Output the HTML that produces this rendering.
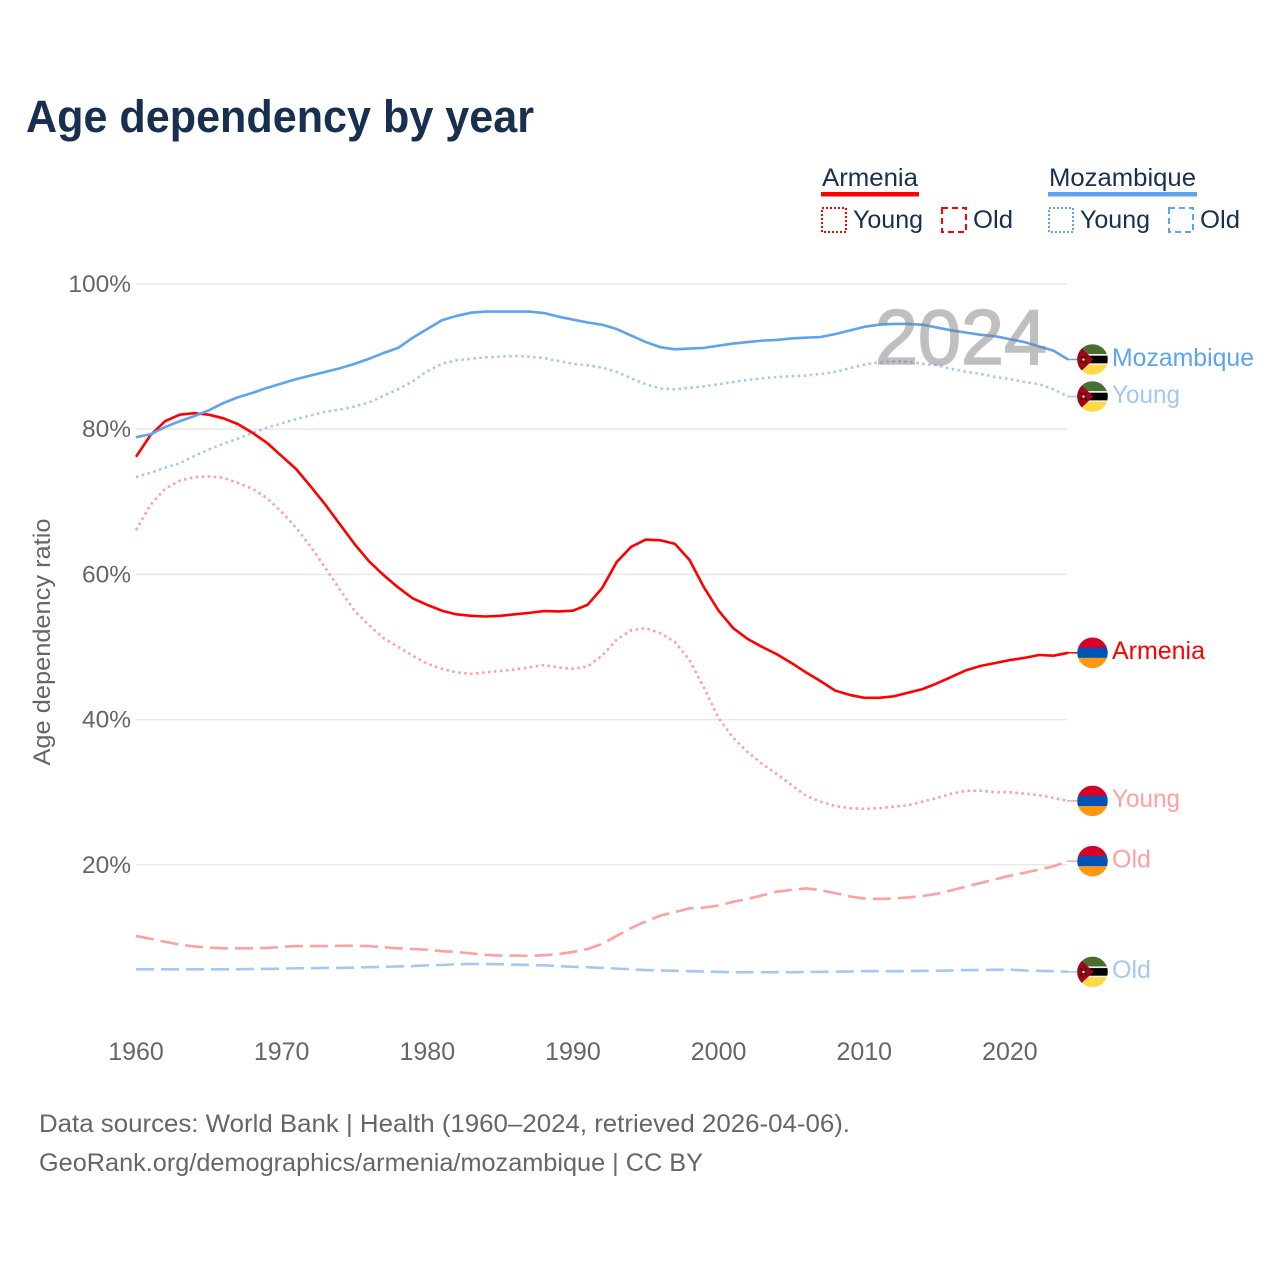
<!DOCTYPE html>
<html lang="en">
<head>
<meta charset="utf-8">
<title>Age dependency by year</title>
<style>
html,body{margin:0;padding:0;background:#fff;}
svg{display:block;font-family:"Liberation Sans",sans-serif;}
</style>
</head>
<body>
<svg id="chart" width="1280" height="1280" viewBox="0 0 1280 1280" xmlns="http://www.w3.org/2000/svg">
  <rect width="1280" height="1280" fill="#fff"/>
  <text x="26" y="132" font-size="45" font-weight="700" fill="#17304f" textLength="508" lengthAdjust="spacingAndGlyphs">Age dependency by year</text>

  <g>
    <text x="822" y="186" font-size="25" fill="#17304f" textLength="96" lengthAdjust="spacingAndGlyphs">Armenia</text>
    <rect x="821" y="192" width="98" height="4.5" fill="#ff0000"/>
    <rect x="822" y="208" width="24" height="24" fill="none" stroke="#ff0000" stroke-width="2" stroke-dasharray="2 2"/>
    <text x="853" y="228" font-size="25" fill="#17304f" textLength="70" lengthAdjust="spacingAndGlyphs">Young</text>
    <rect x="942" y="208" width="24" height="24" fill="none" stroke="#ff0000" stroke-width="2" stroke-dasharray="6 4"/>
    <text x="973" y="228" font-size="25" fill="#17304f" textLength="40" lengthAdjust="spacingAndGlyphs">Old</text>

    <text x="1049" y="186" font-size="25" fill="#17304f" textLength="147" lengthAdjust="spacingAndGlyphs">Mozambique</text>
    <rect x="1048" y="192" width="149" height="4.5" fill="#5ea3ec"/>
    <rect x="1049" y="208" width="24" height="24" fill="none" stroke="#5ea3ec" stroke-width="2" stroke-dasharray="2 2"/>
    <text x="1080" y="228" font-size="25" fill="#17304f" textLength="70" lengthAdjust="spacingAndGlyphs">Young</text>
    <rect x="1169" y="208" width="24" height="24" fill="none" stroke="#5ea3ec" stroke-width="2" stroke-dasharray="6 4"/>
    <text x="1200" y="228" font-size="25" fill="#17304f" textLength="40" lengthAdjust="spacingAndGlyphs">Old</text>
  </g>

  <g id="grid"></g>
  <g id="yticks"></g>
  <g id="xticks"></g>
  <text transform="translate(50,642) rotate(-90)" text-anchor="middle" font-size="24" fill="#666" textLength="247" lengthAdjust="spacingAndGlyphs">Age dependency ratio</text>

  <g id="series"></g>
  <text x="875" y="364" font-size="78" fill="#808080" stroke="#808080" stroke-width="1.6" opacity="0.5" textLength="172" lengthAdjust="spacingAndGlyphs">2024</text>
  <g id="ends"></g>

  <text x="39" y="1132" font-size="25" fill="#666" textLength="811" lengthAdjust="spacingAndGlyphs">Data sources: World Bank | Health (1960–2024, retrieved 2026-04-06).</text>
  <text x="39" y="1171" font-size="25" fill="#666" textLength="664" lengthAdjust="spacingAndGlyphs">GeoRank.org/demographics/armenia/mozambique | CC BY</text>
</svg>
<script>
var startYear = 1960;
var xTickYears = [1960, 1970, 1980, 1990, 2000, 2010, 2020];
var yTickValues = [20, 40, 60, 80, 100];

var mozambiqueTotal = [78.9,79.3,80.3,81.1,81.8,82.6,83.6,84.4,85.0,85.7,86.3,86.9,87.4,87.9,88.4,89.0,89.7,90.5,91.2,92.6,93.8,95.0,95.6,96.05,96.2,96.2,96.2,96.2,96.0,95.5,95.1,94.7,94.4,93.8,92.9,92.0,91.3,91.0,91.1,91.2,91.5,91.8,92.0,92.2,92.3,92.5,92.6,92.7,93.1,93.6,94.1,94.4,94.5,94.5,94.4,94.0,93.6,93.3,93.0,92.8,92.4,92.0,91.4,90.8,89.6];
var mozambiqueYoung = [73.4,74.0,74.7,75.3,76.3,77.2,78.0,78.7,79.5,80.2,80.8,81.4,81.9,82.4,82.7,83.1,83.7,84.6,85.5,86.6,88.0,89.0,89.5,89.7,89.9,90.0,90.1,90.0,89.8,89.4,89.0,88.8,88.5,87.9,87.0,86.2,85.6,85.5,85.7,85.9,86.2,86.5,86.8,87.0,87.2,87.3,87.4,87.6,87.9,88.4,88.9,89.2,89.3,89.3,89.0,88.8,88.3,87.9,87.6,87.2,86.9,86.5,86.2,85.5,84.5];
var mozambiqueOld = [5.6,5.6,5.6,5.6,5.6,5.6,5.6,5.6,5.65,5.65,5.7,5.75,5.75,5.8,5.8,5.85,5.9,5.95,6.0,6.05,6.15,6.2,6.3,6.35,6.35,6.3,6.25,6.2,6.15,6.05,5.95,5.9,5.8,5.7,5.6,5.5,5.45,5.4,5.35,5.3,5.25,5.2,5.2,5.2,5.2,5.2,5.25,5.25,5.3,5.3,5.35,5.35,5.35,5.35,5.4,5.4,5.45,5.5,5.5,5.55,5.55,5.45,5.4,5.35,5.25];
var armeniaTotal = [76.2,79.2,81.1,82.0,82.2,82.0,81.5,80.7,79.5,78.1,76.3,74.5,72.1,69.6,66.9,64.2,61.8,59.9,58.2,56.7,55.8,55.0,54.5,54.3,54.2,54.3,54.5,54.7,54.95,54.9,55.0,55.8,58.1,61.7,63.8,64.8,64.7,64.2,62.0,58.2,55.0,52.6,51.1,50.0,49.0,47.8,46.5,45.3,44.0,43.4,43.0,43.0,43.2,43.7,44.2,45.0,45.9,46.8,47.4,47.8,48.2,48.5,48.9,48.8,49.2];
var armeniaYoung = [66.1,69.6,71.8,72.9,73.4,73.5,73.3,72.6,71.8,70.5,68.6,66.4,63.8,60.9,57.9,55.0,53.0,51.2,50.0,48.8,47.7,47.0,46.5,46.3,46.5,46.7,46.9,47.2,47.5,47.2,47.0,47.3,48.8,51.0,52.3,52.6,51.9,50.7,48.2,44.4,40.2,37.5,35.5,33.9,32.5,31.0,29.5,28.7,28.1,27.8,27.7,27.8,28.0,28.2,28.7,29.2,29.8,30.2,30.2,30.0,30.0,29.8,29.6,29.2,28.8];
var armeniaOld = [10.2,9.8,9.4,9.0,8.75,8.6,8.5,8.5,8.5,8.55,8.7,8.8,8.8,8.8,8.85,8.85,8.8,8.65,8.5,8.4,8.3,8.1,8.0,7.8,7.6,7.5,7.5,7.45,7.55,7.7,8.0,8.4,9.1,10.2,11.3,12.2,13.0,13.5,14.0,14.1,14.4,14.9,15.3,15.8,16.3,16.55,16.75,16.5,16.1,15.65,15.35,15.3,15.35,15.5,15.7,16.0,16.5,17.0,17.5,18.0,18.5,18.9,19.35,19.8,20.5];

var svgNS = 'http://www.w3.org/2000/svg';
function xScale(year) { return 136 + (year - 1960) * 14.565; }
function yScale(v) { return 1010 - v * 7.26; }
function make(tag, attrs, parent) {
  var el = document.createElementNS(svgNS, tag);
  for (var k in attrs) { el.setAttribute(k, attrs[k]); }
  parent.appendChild(el);
  return el;
}

var grid = document.getElementById('grid');
var yticks = document.getElementById('yticks');
var xticks = document.getElementById('xticks');
var seriesG = document.getElementById('series');
var ends = document.getElementById('ends');

yTickValues.forEach(function (v) {
  var line = make('line', {x1: 136, x2: 1067, y1: yScale(v), y2: yScale(v), stroke: '#e9e9e9', 'stroke-width': 1.5}, grid);
  
  
  var t = make('text', {x: 131, y: yScale(v) + 8, 'text-anchor': 'end', 'font-size': 24.5, fill: '#666'}, yticks);
  t.textContent = v + '%';
  
  
});

xTickYears.forEach(function (yr) {
  var t = make('text', {x: xScale(yr), y: 1060, 'text-anchor': 'middle', 'font-size': 25, fill: '#666'}, xticks);
  t.textContent = String(yr);
  
  
});

function drawSeries(values, color, dash, name) {
  var d = values.map(function (v, i) {
    return (i ? 'L' : 'M') + xScale(startYear + i).toFixed(2) + ' ' + yScale(v).toFixed(2);
  }).join(' ');
  var attrs = {d: d, fill: 'none', stroke: color, 'stroke-width': 2.6, 'stroke-linejoin': 'round'};
  if (dash) { attrs['stroke-dasharray'] = dash; }
  var p = make('path', attrs, seriesG);
  
  
}

function drawFlag(country, cy, name) {
  var cx = 1092.5;
  var r = 15.3;
  var g = make('g', {}, ends);
  
  
  var clipId = 'clip-' + name;
  var defs = make('defs', {}, g);
  var clip = make('clipPath', {id: clipId}, defs);
  make('circle', {cx: cx, cy: cy, r: r}, clip);
  var inner = make('g', {'clip-path': 'url(#' + clipId + ')'}, g);
  var left = cx - r;
  if (country === 'armenia') {
    make('rect', {x: left, y: cy - r, width: 2 * r, height: r * 2 / 3 + 0.3, fill: '#d80027'}, inner);
    make('rect', {x: left, y: cy - r / 3, width: 2 * r, height: r * 2 / 3, fill: '#0052b4'}, inner);
    make('rect', {x: left, y: cy + r / 3, width: 2 * r, height: r * 2 / 3, fill: '#ff9811'}, inner);
  } else {
    make('rect', {x: left, y: cy - r, width: 2 * r, height: r, fill: '#496e2d'}, inner);
    make('rect', {x: left, y: cy - 5.5, width: 2 * r, height: 11, fill: '#f0f0f0'}, inner);
    make('rect', {x: left, y: cy - 3.8, width: 2 * r, height: 7.6, fill: '#000'}, inner);
    make('rect', {x: left, y: cy + 5.3, width: 2 * r, height: r, fill: '#ffda44'}, inner);
    make('polygon', {points: left + ',' + (cy - r) + ' ' + (cx + 1) + ',' + cy + ' ' + left + ',' + (cy + r), fill: '#a2001d'}, inner);
    make('path', {d: 'M' + (cx - 12) + ' ' + (cy - 3.5) + 'L' + (cx - 6) + ' ' + (cy + 3.5) + 'M' + (cx - 6) + ' ' + (cy - 3.5) + 'L' + (cx - 12) + ' ' + (cy + 3.5), stroke: '#111', 'stroke-width': 1.3, fill: 'none'}, inner);
    make('circle', {cx: cx - 9, cy: cy, r: 1.3, fill: '#ffda44'}, inner);
  }
}

function drawEnd(values, color, label, width, country, name) {
  var last = values[values.length - 1];
  var y = yScale(last);
  var x0 = xScale(startYear + values.length - 1);
  var lead = make('line', {x1: x0 - 1, x2: 1080, y1: y, y2: y, stroke: color, 'stroke-width': 1.5}, ends);
  
  
  drawFlag(country, y, name);
  var t = make('text', {x: 1112, y: y + 6.3, 'font-size': 25, fill: color, textLength: width, lengthAdjust: 'spacingAndGlyphs'}, ends);
  t.textContent = label;
  
  
}

drawSeries(armeniaOld, '#ff9f9f', '18 7', 'armenia-old');
drawSeries(mozambiqueOld, '#a3c9f3', '18 7', 'mozambique-old');
drawSeries(armeniaYoung, '#ff9f9f', '2.5 3.5', 'armenia-young');
drawSeries(mozambiqueYoung, '#a3c9f3', '2.5 3.5', 'mozambique-young');
drawSeries(armeniaTotal, '#ff0000', '', 'armenia-total');
drawSeries(mozambiqueTotal, '#5ea3ec', '', 'mozambique-total');

drawEnd(mozambiqueTotal, '#5ea3ec', 'Mozambique', 142, 'mozambique', 'mozambique-total');
drawEnd(mozambiqueYoung, '#a3c9f3', 'Young', 68, 'mozambique', 'mozambique-young');
drawEnd(armeniaTotal, '#ff0000', 'Armenia', 93, 'armenia', 'armenia-total');
drawEnd(armeniaYoung, '#ff9f9f', 'Young', 68, 'armenia', 'armenia-young');
drawEnd(armeniaOld, '#ff9f9f', 'Old', 39, 'armenia', 'armenia-old');
drawEnd(mozambiqueOld, '#a3c9f3', 'Old', 39, 'mozambique', 'mozambique-old');
</script>
</body>
</html>
